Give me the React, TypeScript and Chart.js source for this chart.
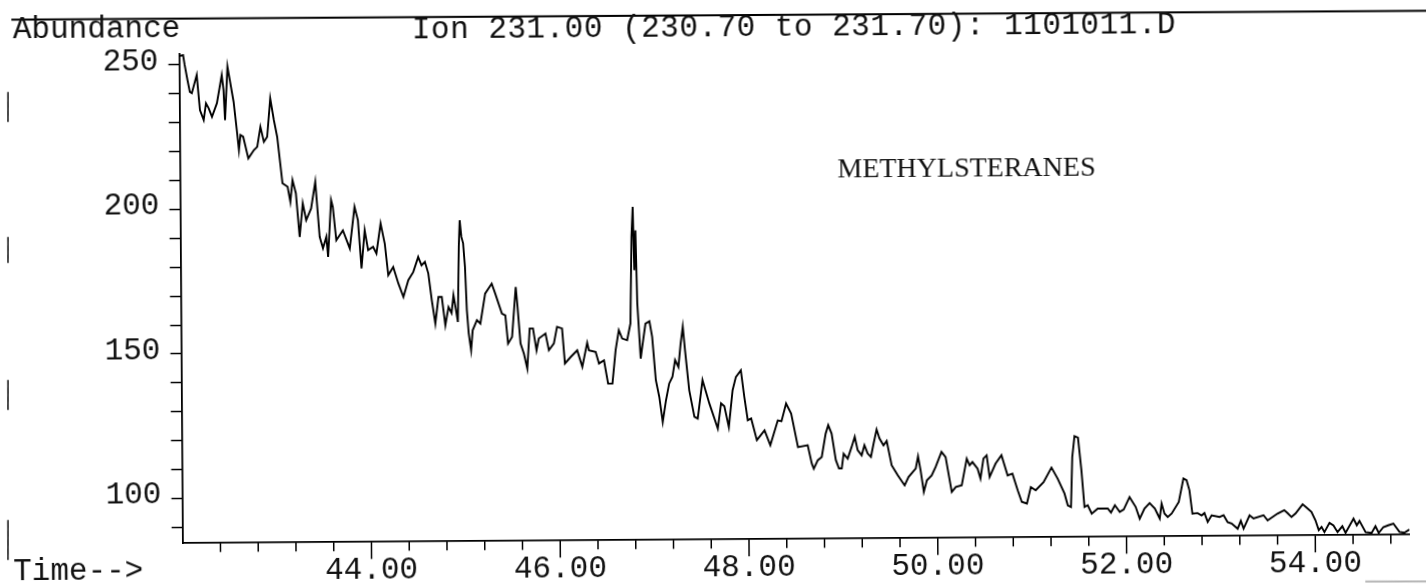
import React, { useEffect, useRef } from 'react';
import { Chart, registerables } from 'chart.js';

Chart.register(...registerables);

// ---- data ----
const retentionTimes = [
  42.0, 42.04, 42.056, 42.085, 42.109, 42.13, 42.183, 42.215, 42.254, 42.279, 42.307, 42.342, 42.395, 42.448,
  42.466, 42.48, 42.509, 42.533, 42.572, 42.607, 42.625, 42.642, 42.671, 42.724, 42.784, 42.819, 42.854, 42.89,
  42.925, 42.96, 42.997, 43.031, 43.084, 43.138, 43.166, 43.19, 43.225, 43.262, 43.297, 43.332, 43.385, 43.431,
  43.474, 43.508, 43.544, 43.562, 43.597, 43.615, 43.65, 43.72, 43.792, 43.845, 43.88, 43.915, 43.951, 43.986,
  44.039, 44.074, 44.12, 44.163, 44.198, 44.251, 44.304,
  44.357, 44.41, 44.463, 44.516, 44.551, 44.587, 44.622, 44.657, 44.693, 44.728, 44.763, 44.799, 44.834, 44.866,
  44.887, 44.908, 44.932, 44.947, 44.958, 44.975, 44.993, 45.011, 45.028, 45.046, 45.07, 45.088, 45.134, 45.17,
  45.223, 45.293, 45.329, 45.399, 45.435, 45.462, 45.505, 45.547, 45.565, 45.594, 45.629, 45.664, 45.692, 45.727,
  45.763, 45.788, 45.859, 45.894, 45.947, 45.982, 46.035, 46.063, 46.124, 46.194, 46.247, 46.3, 46.318, 46.389,
  46.424, 46.477, 46.519, 46.565, 46.601, 46.636, 46.671, 46.724, 46.76, 46.777, 46.792, 46.805, 46.819, 46.834,
  46.866, 46.883, 46.919, 46.961, 46.989, 47.025, 47.06, 47.095, 47.131, 47.166, 47.201, 47.23, 47.265, 47.29,
  47.314, 47.336, 47.378, 47.431, 47.466, 47.519, 47.59, 47.678, 47.714, 47.749, 47.795, 47.837, 47.873, 47.926,
  47.961, 47.996, 48.032, 48.091, 48.173, 48.233, 48.314, 48.353, 48.403, 48.456, 48.526,
  48.629, 48.671, 48.692, 48.735, 48.777, 48.82, 48.848, 48.883, 48.926, 48.959, 48.988, 49.009, 49.052, 49.094,
  49.128, 49.158, 49.2, 49.23, 49.264, 49.298, 49.327, 49.36, 49.39, 49.432, 49.466, 49.517, 49.581, 49.653,
  49.695, 49.772, 49.797, 49.823, 49.856, 49.889, 49.94, 49.983, 50.046, 50.089, 50.152, 50.195, 50.258, 50.313,
  50.343, 50.373, 50.427, 50.457, 50.49, 50.524, 50.554, 50.618, 50.681, 50.745, 50.796, 50.851, 50.893, 50.947,
  50.99, 51.041, 51.125, 51.21, 51.274, 51.346, 51.38, 51.414, 51.431, 51.456, 51.493, 51.527, 51.557, 51.591,
  51.633, 51.697, 51.803, 51.837, 51.879, 51.93, 51.972, 52.035, 52.099, 52.141, 52.192, 52.247, 52.302, 52.353,
  52.374, 52.404, 52.438, 52.48, 52.556, 52.607, 52.64, 52.67, 52.7, 52.755, 52.797, 52.827, 52.861, 52.903,
  52.988, 53.03, 53.072, 53.114, 53.178, 53.212, 53.241, 53.305, 53.347, 53.453, 53.496, 53.601, 53.673, 53.707,
  53.749, 53.792, 53.868, 53.91, 53.961, 54.003, 54.037, 54.067, 54.097, 54.151, 54.193, 54.236, 54.287, 54.321,
  54.406, 54.44, 54.469, 54.533, 54.597, 54.638, 54.672, 54.722, 54.773, 54.828, 54.892, 54.943, 54.998,
];

const abundance = [
  253.1, 253.4, 250.0, 244.7, 240.7, 240.2, 246.5, 234.3, 230.9, 236.7, 235.0, 232.0, 236.7, 246.4,
  241.2, 230.8, 249.3, 244.7, 237.1, 226.3, 220.4, 225.6, 225.0, 217.5, 220.4, 221.5, 228.4, 223.2,
  224.9, 238.2, 230.7, 224.9, 208.8, 207.6, 202.4, 209.9, 205.3, 190.2, 201.8, 196.0, 200.0, 209.2,
  190.2, 186.2, 190.2, 183.2, 202.9, 200.5, 189.0, 192.4, 186.1, 200.5, 195.9, 179.2, 192.4, 185.5,
  186.6, 184.3, 194.7, 187.7, 176.8, 179.6, 173.9,
  169.2, 175.0, 177.8, 183.0, 180.1, 181.3, 177.3, 168.0, 159.9, 169.1, 169.1, 159.3, 165.6, 163.5,
  169.7, 165.5, 160.4, 186.4, 195.6, 189.8, 187.6, 179.5, 164.5, 156.4, 150.6, 157.5, 161.0, 159.8,
  170.2, 173.6, 170.2, 163.2, 162.6, 152.8, 155.1, 172.4, 165.5, 152.8, 149.3, 144.1, 158.0, 158.0,
  150.4, 154.5, 156.2, 150.4, 152.7, 158.5, 157.9, 145.8, 148.0, 150.3, 144.6, 152.9, 150.3, 149.7,
  145.7, 146.8, 138.7, 138.7, 150.3, 157.2, 154.3, 153.7, 159.5, 189.4, 199.8, 177.9, 191.7, 166.4,
  147.3, 151.3, 159.4, 160.2, 154.8, 139.8, 134.0, 125.3, 132.8, 138.6, 140.9, 146.7, 144.3, 152.4,
  158.2, 150.1, 136.2, 127.0, 126.4, 139.7, 131.6, 122.9, 131.6, 130.6, 123.4, 136.1, 140.7, 143.0,
  133.8, 125.7, 126.3, 118.8, 122.2, 117.0, 125.6, 125.3, 131.4, 127.9, 116.3,
  116.9, 110.6, 108.8, 111.7, 112.8, 120.9, 123.8, 120.9, 111.7, 108.8, 108.8, 113.9, 112.2, 116.2,
  119.7, 115.1, 113.3, 116.8, 113.9, 112.7, 117.3, 122.2, 119.1, 116.7, 118.2, 109.8, 106.3, 102.8,
  105.7, 108.6, 112.8, 108.0, 100.5, 104.5, 106.2, 109.1, 114.3, 112.5, 100.4, 102.1, 102.7, 111.9,
  109.6, 110.7, 108.4, 105.0, 111.9, 113.0, 105.5, 110.1, 113.0, 106.0, 106.6, 100.8, 96.8, 96.2,
  101.9, 100.8, 103.6, 108.6, 104.8, 99.6, 95.5, 94.9, 112.2, 119.4, 118.9, 107.6, 94.9, 95.5,
  92.6, 94.3, 94.3, 92.9, 95.4, 93.1, 93.9, 98.2, 94.8, 90.7, 94.2, 96.1, 94.2, 90.7,
  95.9, 92.4, 91.2, 92.4, 96.4, 104.5, 103.9, 100.4, 92.3, 92.5, 91.7, 92.5, 89.4, 91.7,
  91.1, 91.7, 89.3, 88.8, 87.0, 89.7, 87.0, 91.6, 90.5, 91.6, 89.8, 92.1, 93.3, 92.3,
  90.9, 92.1, 95.3, 94.1, 92.6, 89.7, 86.3, 87.4, 85.6, 88.8, 87.9, 85.6, 87.6, 85.3,
  90.2, 87.9, 89.4, 85.5, 85.2, 87.5, 85.2, 87.2, 87.8, 88.4, 85.5, 85.2, 86.3,
];

const yTickValues = [90, 100, 110, 120, 130, 140, 150, 160, 170, 180, 190, 200, 210, 220, 230, 240, 250];
const yLabelValues = [100, 150, 200, 250];
const xTickValues = [
  42.4, 42.8, 43.2, 43.6, 44.0, 44.4, 44.8, 45.2, 45.6, 46.0, 46.4, 46.8, 47.2, 47.6, 48.0, 48.4,
  48.8, 49.2, 49.6, 50.0, 50.4, 50.8, 51.2, 51.6, 52.0, 52.4, 52.8, 53.2, 53.6, 54.0, 54.4, 54.8,
];
const xLabelValues = [44, 46, 48, 50, 52, 54];

const titleText = 'Ion 231.00 (230.70 to 231.70): 1101011.D';
const yAxisText = 'Abundance';
const xAxisText = 'Time-->';
const annotationText = 'METHYLSTERANES';

const MONO = '"Liberation Mono", "Courier New", monospace';
const SERIF = '"Liberation Serif", "Times New Roman", serif';

const decorPlugin = {
  id: 'decor',
  afterDraw(chart: any) {
    const { ctx, chartArea } = chart;
    const xs = chart.scales.x;
    ctx.save();
    // x-axis tick marks (major longer)
    ctx.strokeStyle = '#000';
    ctx.lineWidth = 1.5;
    const axisY = chartArea.bottom;
    for (const v of xTickValues) {
      const px = xs.getPixelForValue(v);
      const major = xLabelValues.some((m) => Math.abs(m - v) < 1e-6);
      ctx.beginPath();
      ctx.moveTo(px, axisY);
      ctx.lineTo(px, axisY + (major ? 17 : 9));
      ctx.stroke();
    }
    // top rule
    ctx.lineWidth = 2;
    ctx.beginPath();
    ctx.moveTo(15, 18.5);
    ctx.lineTo(1440, 19.5);
    ctx.stroke();
    // left margin marks
    ctx.lineWidth = 1.6;
    ctx.strokeStyle = '#222';
    const marks = [[92, 122], [237, 263], [380, 410], [520, 560]];
    for (const [a, b] of marks) {
      ctx.beginPath();
      ctx.moveTo(8 + (543.3 - a) * 0.007, a - 1.2);
      ctx.lineTo(8 + (543.3 - b) * 0.007, b - 1.2);
      ctx.stroke();
    }
    // faint line bottom right
    ctx.strokeStyle = '#b5b5b5';
    ctx.lineWidth = 2;
    ctx.beginPath();
    ctx.moveTo(1365, 589.8);
    ctx.lineTo(1440, 590.3);
    ctx.stroke();
    // texts
    ctx.fillStyle = '#111';
    ctx.textAlign = 'left';
    ctx.textBaseline = 'alphabetic';
    ctx.font = `31px ${MONO}`;
    ctx.fillText(yAxisText, 16.5, 37);
    ctx.fillText(xAxisText, 13, 579);
    if ('letterSpacing' in ctx) (ctx as any).letterSpacing = '0.5px';
    ctx.fillText(titleText, 415.5, 40);
    if ('letterSpacing' in ctx) (ctx as any).letterSpacing = '0px';
    ctx.font = `28px ${SERIF}`;
    ctx.fillText(annotationText, 840, 182);
    ctx.restore();
  },
};

export default function App() {
  const canvasRef = useRef<HTMLCanvasElement | null>(null);

  useEffect(() => {
    const canvas = canvasRef.current;
    if (!canvas) return;
    const points = retentionTimes.map((t, i) => ({ x: t, y: abundance[i] }));
    const chart = new Chart(canvas, {
      type: 'line',
      data: {
        datasets: [
          {
            data: points,
            borderColor: '#000',
            borderWidth: 1.9,
            pointRadius: 0,
            tension: 0,
            fill: false,
          },
        ],
      },
      options: {
        animation: false,
        responsive: false,
        events: [],
        layout: { autoPadding: false, padding: { left: 0, top: 53.4, right: 30.3, bottom: 0 } },
        plugins: { legend: { display: false }, tooltip: { enabled: false }, title: { display: false } },
        scales: {
          x: {
            type: 'linear',
            min: 42,
            max: 55,
            afterBuildTicks: (scale: any) => {
              scale.ticks = xLabelValues.map((v) => ({ value: v }));
            },
            afterFit: (scale: any) => {
              scale.height = 56.7;
            },
            grid: { display: false, drawTicks: false },
            border: { display: true, color: '#000', width: 1.8 },
            ticks: {
              autoSkip: false,
              maxRotation: 0,
              padding: 10,
              color: '#111',
              font: { family: MONO, size: 31 },
              callback: (v: any) => Number(v).toFixed(2),
            },
          },
          y: {
            type: 'linear',
            min: 84.5,
            max: 254,
            afterBuildTicks: (scale: any) => {
              scale.ticks = yTickValues.map((v) => ({ value: v }));
            },
            afterFit: (scale: any) => {
              scale.width = 182.7;
            },
            grid: {
              display: true,
              drawOnChartArea: false,
              drawTicks: true,
              tickLength: 11,
              tickWidth: 1.5,
              tickColor: '#000',
              color: '#000',
            },
            border: { display: true, color: '#000', width: 1.8 },
            ticks: {
              autoSkip: false,
              padding: 10,
              labelOffset: -3.5,
              color: '#111',
              font: { family: MONO, size: 31 },
              callback: (v: any) => (yLabelValues.includes(Number(v)) ? String(v) : ''),
            },
          },
        },
      },
      plugins: [decorPlugin],
    });
    return () => chart.destroy();
  }, []);

  return (
    <div
      style={{
        position: 'fixed',
        left: 0,
        top: 0,
        width: 1426,
        height: 584,
        overflow: 'hidden',
        background: '#fff',
      }}
    >
      <div
        style={{
          position: 'absolute',
          left: 0,
          top: 0,
          width: 1440,
          height: 600,
          transform: 'rotate(-0.4deg)',
          transformOrigin: '182.7px 543.3px',
        }}
      >
        <canvas ref={canvasRef} width={1440} height={600} style={{ display: 'block' }} />
      </div>
    </div>
  );
}
